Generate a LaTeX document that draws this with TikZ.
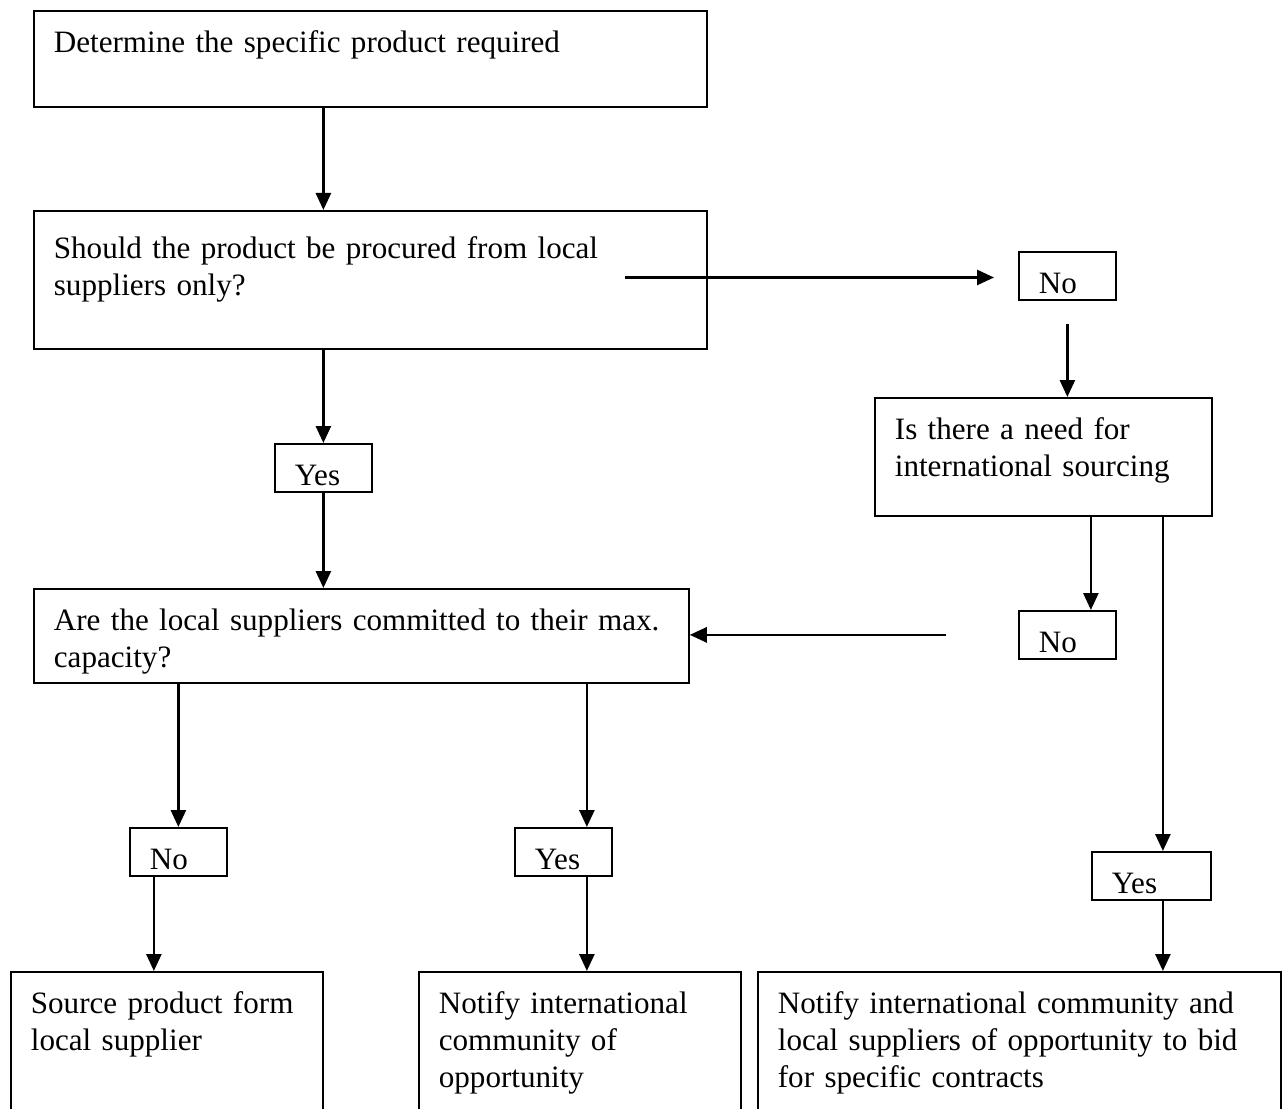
\documentclass[tikz,border=0pt]{standalone}
\usepackage{fontspec}
\setmainfont{Liberation Serif}
\usetikzlibrary{arrows.meta,positioning}
\tikzset{
    stepbox/.style={draw, line width=1pt, anchor=north west, align=left,
        inner xsep=0.4cm, inner ysep=0.32cm, text height=0.52cm,
        font=\fontsize{17.7pt}{20.9pt}\selectfont},
    answerbox/.style={stepbox, inner ysep=0.12cm, text height=0.72cm, text depth=0cm},
    flowarrow/.style={-{Triangle[length=0.34cm, width=0.3cm]}, line width=1.5pt}
}
\begin{document}
\begin{tikzpicture}
\useasboundingbox (0,0) rectangle (25.7,-22.18);
\clip (0,0) rectangle (25.7,-22.18);
\node[stepbox, text width=12.66cm, text depth=0.76cm] (product) at (0.66,-0.2) {Determine the specific product required};
\node[stepbox, text width=12.66cm, text height=0.64cm, text depth=1.48cm] (local) at (0.66,-4.2) {Should the product be procured from local\\suppliers only?};
\node[answerbox, text width=1.14cm] (yes1) at (5.48,-8.86) {Yes};
\node[stepbox, text width=12.3cm, text depth=0.72cm] (capacity) at (0.66,-11.76) {Are the local suppliers committed to their max.\\capacity?};
\node[answerbox, text width=1.14cm] (no1) at (20.36,-5.02) {No};
\node[stepbox, text width=5.94cm, text depth=1.2cm] (need) at (17.48,-7.94) {Is there a need for\\international sourcing};
\node[answerbox, text width=1.14cm] (no2) at (20.36,-12.2) {No};
\node[answerbox, text width=1.14cm] (noL) at (2.58,-16.54) {No};
\node[answerbox, text width=1.14cm] (yesM) at (10.28,-16.54) {Yes};
\node[answerbox, text width=1.58cm] (yesR) at (21.82,-17.02) {Yes};
\node[stepbox, text width=5.44cm, text depth=3cm] (source) at (0.2,-19.42) {Source product form\\local supplier};
\node[stepbox, text width=5.64cm, text depth=3cm] (notify) at (8.36,-19.42) {Notify international\\community of\\opportunity};
\node[stepbox, text width=9.66cm, text depth=3cm] (notifyall) at (15.14,-19.42) {Notify international community and\\local suppliers of opportunity to bid\\for specific contracts};
\coordinate (fromlocal) at (12.5,-5.55);
\draw[flowarrow] (product.south -| yes1) -- (yes1 |- local.north);
\draw[flowarrow] (local.south -| yes1) -- (yes1.north);
\draw[flowarrow] (yes1.south) -- (yes1 |- capacity.north);
\draw[flowarrow, shorten >=0.48cm] (fromlocal) -- (fromlocal -| no1.west);
\draw[flowarrow, shorten <=0.46cm] (no1.south) -- (no1 |- need.north);
\draw[flowarrow] ([xshift=0.47cm]no2.north |- need.south) -- ([xshift=0.47cm]no2.north);
\draw[flowarrow, shorten <=1.44cm] (no2.west) -- (no2.west -| capacity.east);
\draw[flowarrow] ([xshift=0.23cm]yesR.north |- need.south) -- ([xshift=0.23cm]yesR.north);
\draw[flowarrow] ([xshift=0.23cm]yesR.south) -- ([xshift=0.23cm]yesR.south |- notifyall.north);
\draw[flowarrow] (capacity.south -| noL) -- (noL.north);
\draw[flowarrow] ([xshift=-0.49cm]noL.south) -- ([xshift=-0.49cm]noL.south |- source.north);
\draw[flowarrow] ([xshift=0.47cm]yesM.north |- capacity.south) -- ([xshift=0.47cm]yesM.north);
\draw[flowarrow] ([xshift=0.47cm]yesM.south) -- ([xshift=0.47cm]yesM.south |- notify.north);
\end{tikzpicture}
\end{document}
